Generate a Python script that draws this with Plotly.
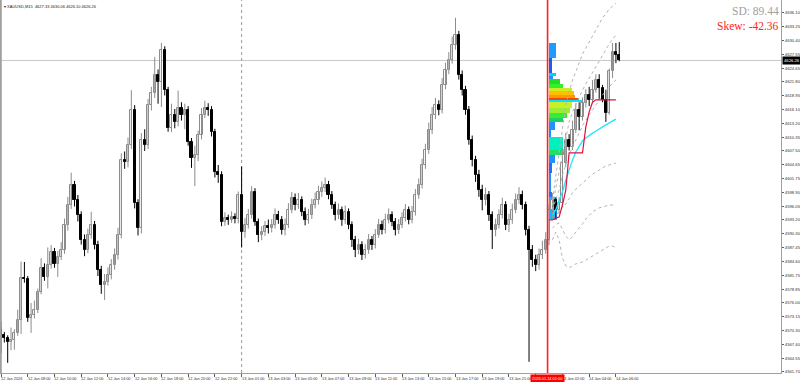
import plotly.graph_objects as go

# ---------------- data ----------------
closes = [4569.4,4568.7,4567.9,4568.3,4569.8,4572.5,4581.2,4581.0,4572.9,4573.5,
          4574.5,4578.3,4583.3,4581.4,4583.9,4586.6,4584.0,4585.5,4587.0,4592.2,
          4596.3,4600.4,4597.3,4594.2,4589.0,4587.0,4590.1,4592.2,4588.0,4582.8,
          4579.7,4580.4,4581.8,4583.9,4586.0,4590.1,4605.6,4605.2,4608.7,4616.0,
          4596.7,4591.5,4609.8,4608.7,4617.0,4619.5,4623.3,4621.8,4628.4,4620.1,
          4612.3,4615.0,4613.5,4616.4,4615.0,4616.0,4609.4,4606.0,4606.7,4610.8,
          4615.0,4616.4,4616.0,4611.4,4603.1,4602.5,4592.8,4593.6,4593.2,4593.8,
          4593.4,4598.4,4590.7,4592.2,4594.2,4599.0,4592.8,4590.1,4590.7,4592.0,
          4591.5,4592.2,4594.2,4593.2,4591.1,4592.2,4595.3,4597.8,4596.3,4597.3,
          4594.9,4593.2,4594.2,4596.3,4597.3,4599.0,4599.8,4600.4,4598.4,4596.3,
          4594.2,4595.3,4593.2,4594.9,4592.2,4589.0,4587.0,4588.0,4586.0,4587.0,
          4589.0,4588.0,4590.1,4592.2,4591.1,4593.2,4594.2,4592.8,4591.1,4592.2,
          4593.6,4595.3,4593.2,4594.9,4598.4,4600.4,4604.6,4607.7,4611.9,4615.0,
          4617.0,4616.0,4621.2,4624.3,4626.4,4629.5,4631.5,4623.3,4620.1,4616.0,
          4609.8,4605.6,4602.5,4599.4,4597.3,4598.4,4594.2,4591.1,4592.2,4594.2,
          4596.3,4592.2,4593.2,4595.3,4597.3,4598.4,4596.3,4591.1,4587.0,4584.9,
          4583.9,4586.0,4587.0,4589.0,4595.3,4597.3,4595.3,4596.7,4605.0,4609.8,
          4608.3,4611.9,4616.0,4614.5,4617.4,4619.1,4618.1,4620.1,4622.2,4620.6,
          4618.1,4615.4,4624.0,4628.0,4627.33,4626.26]
highs = [4572.1,4570.0,4569.3,4570.9,4570.6,4574.6,4584.6,4584.5,4581.6,4576.0,
         4576.5,4579.0,4585.3,4584.2,4587.5,4588.0,4587.4,4586.8,4588.6,4593.5,
         4598.0,4603.0,4601.3,4598.4,4595.0,4590.2,4591.4,4594.9,4593.0,4588.9,
         4583.7,4582.0,4583.4,4585.1,4587.3,4591.6,4607.0,4607.4,4610.3,4620.1,
         4617.0,4597.5,4611.2,4612.0,4618.3,4620.8,4627.0,4624.4,4629.9,4629.2,
         4620.8,4617.3,4616.2,4620.0,4617.6,4617.3,4616.8,4610.2,4608.6,4611.7,
         4616.4,4617.9,4617.4,4616.8,4612.1,4604.6,4603.3,4594.8,4594.3,4595.0,
         4594.6,4599.1,4604.3,4593.6,4595.5,4600.2,4599.8,4593.5,4591.9,4593.0,
         4593.3,4593.4,4595.6,4595.1,4594.0,4593.5,4596.7,4599.0,4598.7,4598.8,
         4598.1,4595.8,4595.5,4597.6,4598.9,4600.3,4601.2,4602.0,4601.3,4599.2,
         4597.0,4596.6,4596.0,4596.2,4595.6,4592.9,4589.9,4589.3,4588.8,4588.2,
         4590.3,4589.9,4591.3,4593.4,4593.1,4594.5,4595.6,4595.0,4593.6,4593.4,
         4594.8,4596.5,4596.0,4596.1,4599.6,4601.8,4605.9,4609.0,4613.4,4616.6,
         4618.5,4618.0,4622.6,4625.8,4628.0,4631.2,4635.1,4632.4,4624.2,4621.0,
         4616.8,4610.7,4606.5,4603.6,4600.5,4599.9,4599.2,4595.0,4593.5,4595.4,
         4597.8,4597.1,4594.5,4596.6,4598.7,4600.0,4599.3,4597.0,4592.0,4588.0,
         4586.0,4587.3,4588.9,4590.7,4596.4,4598.8,4597.8,4597.9,4608.0,4611.2,
         4611.0,4613.8,4617.4,4617.6,4618.6,4620.3,4620.8,4622.2,4623.4,4623.4,
         4621.2,4620.2,4624.6,4629.9,4629.9,4630.06]
lows = [4565.6,4567.8,4563.6,4566.2,4566.3,4569.2,4569.6,4580.2,4572.1,4569.8,
        4572.8,4573.9,4577.8,4580.6,4579.0,4583.1,4583.3,4581.4,4584.9,4586.2,
        4591.0,4595.5,4596.0,4592.9,4588.1,4585.7,4586.3,4589.3,4587.1,4581.6,
        4577.9,4576.6,4579.6,4580.9,4582.9,4585.0,4589.4,4603.8,4604.1,4607.9,
        4595.6,4590.0,4590.4,4607.5,4607.9,4615.9,4618.5,4617.3,4616.6,4619.0,
        4611.5,4611.4,4612.2,4612.6,4613.8,4612.0,4608.6,4604.0,4600.2,4605.4,
        4609.9,4614.3,4614.8,4610.5,4602.0,4600.9,4591.9,4592.0,4592.2,4592.6,
        4592.5,4592.5,4587.5,4589.5,4591.4,4593.5,4592.0,4588.6,4589.0,4589.9,
        4590.4,4590.6,4591.4,4592.4,4590.2,4590.0,4591.5,4594.6,4595.2,4595.5,
        4594.0,4592.1,4592.4,4593.4,4595.6,4596.4,4598.0,4599.0,4597.5,4595.5,
        4593.1,4593.4,4592.0,4592.4,4591.3,4587.6,4585.5,4586.1,4584.9,4585.2,
        4586.2,4587.0,4587.3,4589.5,4590.2,4590.4,4592.5,4591.9,4590.0,4590.3,
        4591.5,4592.9,4592.3,4592.5,4594.1,4597.6,4599.7,4603.8,4606.9,4611.0,
        4614.1,4614.9,4615.3,4620.3,4623.4,4625.6,4628.5,4622.3,4619.0,4615.0,
        4608.8,4604.3,4601.1,4598.0,4595.2,4596.2,4593.0,4587.2,4589.8,4591.4,
        4593.5,4591.1,4590.7,4592.4,4594.6,4596.5,4595.4,4590.0,4563.8,4583.5,
        4582.6,4582.9,4585.1,4586.2,4588.0,4593.8,4593.5,4594.5,4595.9,4604.2,
        4607.6,4607.7,4611.2,4611.8,4613.8,4616.5,4616.8,4617.6,4619.6,4618.1,
        4617.6,4613.5,4615.0,4622.6,4625.7,4626.10]
opens = [4570.5] + closes[:-1]

x_tick_idx = list(range(0, 185, 8))
x_tick_text = ["12 Jan 2026", "12 Jan 08:00", "12 Jan 10:00", "12 Jan 12:00", "12 Jan 14:00",
               "12 Jan 16:00", "12 Jan 18:00", "12 Jan 20:00", "12 Jan 22:00", "13 Jan 01:00",
               "13 Jan 03:00", "13 Jan 05:00", "13 Jan 07:00", "13 Jan 09:00", "13 Jan 11:00",
               "13 Jan 13:00", "13 Jan 15:00", "13 Jan 17:00", "13 Jan 19:00", "13 Jan 21:00",
               "13 Jan 23:00", "14 Jan 02:00", "14 Jan 04:00", "14 Jan 06:00"]
y_tick_vals = [4636.10, 4633.25, 4630.40, 4627.55, 4624.65, 4621.80, 4618.95, 4616.10, 4613.20,
               4610.35, 4607.50, 4604.65, 4601.75, 4598.90, 4596.05, 4593.20, 4590.30, 4587.45,
               4584.60, 4581.75, 4578.85, 4576.00, 4573.15, 4570.30, 4567.40, 4564.55, 4561.70]

session_start = 164
session_label = "2026.01.14 01:00"
day_sep = 72
last_price = 4626.26

sess_idx = list(range(165, 185))
vwap = [4594.2,4595.3,4597.3,4599.0,4601.5,4603.6,4605.6,4607.3,4608.5,4609.6,
        4610.2,4610.8,4611.2,4611.6,4612.1,4612.5,4612.9,4613.3,4613.7,4614.1]
upper3 = [4597.3,4602.5,4607.7,4612.9,4617.0,4619.7,4622.2,4623.9,4625.9,4627.6,
          4628.8,4630.1,4631.5,4632.6,4633.8,4635.1,4635.9,4636.9,4637.5,4638.2]
upper2 = [4596.3,4599.8,4603.1,4607.3,4610.8,4613.5,4615.6,4617.2,4618.7,4620.1,
          4621.4,4622.6,4623.9,4625.1,4626.4,4627.6,4628.6,4629.7,4630.7,4631.5]
upper1 = [4595.3,4597.3,4599.4,4602.5,4604.6,4606.7,4608.3,4609.8,4611.2,4612.7,
          4613.9,4615.0,4616.0,4617.0,4618.1,4619.1,4619.9,4620.8,4621.6,4622.2]
lower1 = [4593.6,4594.2,4594.9,4595.7,4596.5,4597.6,4598.8,4599.6,4600.2,4600.9,
          4601.5,4602.1,4602.7,4603.1,4603.6,4604.0,4604.4,4604.6,4604.8,4605.0]
lower2 = [4591.5,4592.2,4592.6,4591.1,4589.9,4589.1,4589.7,4590.7,4591.5,4592.4,
          4593.4,4594.2,4594.9,4595.3,4595.7,4595.9,4596.1,4596.3,4596.3,4596.3]
lower3 = [4589.1,4590.7,4589.1,4585.3,4583.7,4583.3,4583.7,4584.1,4584.3,4584.5,
          4584.9,4585.3,4585.7,4586.2,4586.6,4587.0,4587.4,4587.8,4587.8,4587.4]
step_idx = list(range(164, 185))
step_line = [4593.2,4593.2,4593.6,4593.8,4596.3,4599.4,4607.1,4607.1,4607.1,4607.1,
             4607.1,4612.5,4615.6,4617.6,4618.1,4618.1,4618.1,4618.1,4618.1,4618.1,4618.1]

vp_price = [4628.32,4625.22,4623.35,4622.73,4621.90,4620.97,4620.24,4619.52,4618.79,4618.27,
            4617.86,4617.03,4615.89,4614.85,4613.92,4612.68,4611.12,4609.05,4607.18,4605.84,
            4603.97,4600.97,4598.48,4595.58]
vp_height = [3.11,3.11,0.62,0.62,1.04,0.83,0.62,0.83,0.62,0.41,
             0.41,1.24,1.04,1.04,0.83,1.66,1.45,2.69,1.04,1.66,
             2.07,3.94,1.04,4.77]
vp_volume = [2.1,0.9,2.1,1.2,3.3,4.2,6.9,7.5,7.8,9.0,
             9.9,6.9,6.3,5.4,4.2,1.8,0.6,4.2,5.1,1.8,
             0.9,0.3,0.9,2.4]
vp_color = ["#1E9BFF","#1E5AF5","#00D0FF","#1E90FF","#22DD22","#33EE33","#CCEE22","#FFC000","#FF9900","#FF4400",
            "#00E5FF","#C8F028","#99EE33","#33EE33","#22CC66","#1E90FF","#1E90FF","#00F0C0","#22DD66","#1E90FF",
            "#1E70FF","#1E90FF","#1E70FF","#1EB0FF"]

# ---------------- figure ----------------
fig = go.Figure()

fig.add_trace(go.Bar(y=vp_price, x=vp_volume, base=session_start, width=vp_height,
                     orientation="h", marker=dict(color=vp_color, line=dict(width=0)),
                     showlegend=False, hoverinfo="skip"))

idx = list(range(len(closes)))
bull_wx, bull_wy, bear_wx, bear_wy = [], [], [], []
bx, bbase, bh, bfill, bline = [], [], [], [], []
for i, o, h, l, c in zip(idx, opens, highs, lows, closes):
    up = c >= o
    if up:
        bull_wx += [i, i, None]; bull_wy += [l, h, None]
    else:
        bear_wx += [i, i, None]; bear_wy += [l, h, None]
    bx.append(i)
    bbase.append(min(o, c))
    bh.append(max(abs(c - o), 0.12))
    bfill.append("#ffffff" if up else "#000000")
    bline.append("#8c8c8c" if up else "#000000")

fig.add_trace(go.Scatter(x=bull_wx, y=bull_wy, mode="lines", line=dict(color="#8c8c8c", width=1),
                         showlegend=False, hoverinfo="skip"))
fig.add_trace(go.Scatter(x=bear_wx, y=bear_wy, mode="lines", line=dict(color="#000000", width=1),
                         showlegend=False, hoverinfo="skip"))
fig.add_trace(go.Bar(x=bx, y=bh, base=bbase, width=0.62,
                     marker=dict(color=bfill, line=dict(color=bline, width=1)),
                     showlegend=False, hoverinfo="skip"))

for band in [upper3, upper2, upper1, lower1, lower2, lower3]:
    fig.add_trace(go.Scatter(x=sess_idx, y=band, mode="lines",
                             line=dict(color="#b4b4b4", width=1, dash="dot"),
                             showlegend=False, hoverinfo="skip"))
fig.add_trace(go.Scatter(x=sess_idx, y=vwap, mode="lines", line=dict(color="#22E5FF", width=1.3),
                         showlegend=False, hoverinfo="skip"))
fig.add_trace(go.Scatter(x=step_idx, y=step_line, mode="lines", line=dict(color="#DC143C", width=1.2),
                         showlegend=False, hoverinfo="skip"))

fig.add_shape(type="line", xref="paper", x0=0, x1=1, y0=last_price, y1=last_price,
              line=dict(color="#c8c8c8", width=1), layer="below")
fig.add_shape(type="line", yref="paper", x0=day_sep, x1=day_sep, y0=0, y1=1,
              line=dict(color="#9a9a9a", width=1, dash="dot"), layer="below")
fig.add_shape(type="line", yref="paper", x0=session_start - 0.45, x1=session_start - 0.45, y0=0, y1=1,
              line=dict(color="#FF2020", width=1.6))
fig.add_shape(type="line", xref="paper", yref="paper", x0=0.001, x1=0.001, y0=0, y1=1,
              line=dict(color="#a0a0a0", width=2))

small = dict(size=3.9, color="#303030", family="Liberation Sans")
for i, t in zip(x_tick_idx, x_tick_text):
    if session_start - 5 < i < session_start:
        continue  # fully hidden beneath the session time label in the original
    fig.add_annotation(x=i, y=0, yref="paper", text=t, showarrow=False, xanchor="left", yanchor="top",
                       yshift=-1.5, xshift=-1, font=small, borderpad=0)
fig.add_annotation(x=session_start - 0.45, y=0, yref="paper", text=session_label, showarrow=False,
                   xanchor="center", yanchor="top", yshift=-1, bgcolor="#FF0000",
                   font=dict(size=3.9, color="#ffffff", family="Liberation Sans"), borderpad=1)
fig.add_annotation(x=1, xref="paper", y=last_price, text=f"{last_price:.2f}", showarrow=False,
                   xanchor="left", yanchor="middle", bgcolor="#000000", xshift=1,
                   font=dict(size=4.2, color="#ffffff", family="Liberation Sans"), borderpad=1)
fig.add_annotation(x=0, xref="paper", y=1, yref="paper",
                   text=f"▾ XAUUSD,M15  {opens[-1]:.2f} {highs[-1]:.2f} {lows[-1]:.2f} {closes[-1]:.2f}",
                   showarrow=False, xanchor="left", yanchor="top", xshift=2, yshift=-2,
                   font=dict(size=4.0, color="#202020", family="Liberation Sans"))
fig.add_annotation(x=1, xref="paper", y=1, yref="paper", text="SD: 89.44", showarrow=False,
                   xanchor="right", yanchor="top", yshift=-3,
                   font=dict(size=11.5, color="#a0a0a0", family="Liberation Serif"))
fig.add_annotation(x=1, xref="paper", y=1, yref="paper", text="Skew: -42.36", showarrow=False,
                   xanchor="right", yanchor="top", yshift=-18,
                   font=dict(size=11.5, color="#FF2020", family="Liberation Serif"))

fig.update_layout(
    width=800, height=382, margin=dict(l=0, r=19, t=0, b=9),
    paper_bgcolor="#ffffff", plot_bgcolor="#ffffff", barmode="overlay", bargap=0,
    showlegend=False,
    xaxis=dict(range=[-0.3, 233.4], showgrid=False, zeroline=False, showline=True, linecolor="#a0a0a0",
               linewidth=1, tickvals=x_tick_idx, ticks="outside", ticklen=3, tickcolor="#606060",
               showticklabels=False, fixedrange=True),
    yaxis=dict(range=[4561.49, 4638.79], side="right", showgrid=False, zeroline=False, showline=True,
               linecolor="#a0a0a0", linewidth=1, tickvals=y_tick_vals,
               ticktext=[f"{v:.2f}" for v in y_tick_vals], ticks="outside", ticklen=2,
               tickcolor="#606060", tickfont=dict(size=4.2, color="#303030", family="Liberation Sans"),
               fixedrange=True),
)

fig.write_html("out.html")
